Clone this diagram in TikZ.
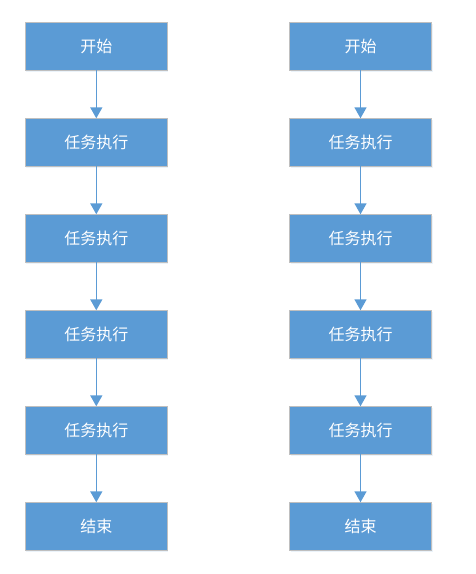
\documentclass[tikz,border=0pt]{standalone}
\usepackage{fontspec}
\newfontfamily\cjk{Noto Sans CJK SC}
\usetikzlibrary{positioning, arrows.meta, shadows}
\definecolor{boxblue}{HTML}{5B9BD5}
\tikzset{blk/.style={draw=gray!50, fill=boxblue, text=white, minimum width=142pt, minimum height=48pt, inner sep=0pt, outer sep=0pt, font=\cjk\fontsize{16pt}{16pt}\selectfont, drop shadow={shadow xshift=1pt, shadow yshift=-2pt, opacity=0.12, fill=boxblue}}}
\tikzset{flow/.style={line width=1.5pt, boxblue, -{Triangle[width=12pt,length=11pt]}}}

\begin{document}
\begin{tikzpicture}[x=1pt, y=-1pt, node distance=48pt]
  \useasboundingbox (0,0) rectangle (476,574);
  % Two identical columns
  \foreach \c/\x in {l/96.3, r/360.5} {
    \node[blk] (\c0) at (\x,46.3) {开始};
    \foreach \i [count=\j from 0] in {1,...,4} {
      \node[blk, below=of \c\j] (\c\i) {任务执行};
    }
    \node[blk, below=of \c4] (\c5) {结束};
    % Arrows
    \foreach \i [count=\j from 0] in {1,...,5} {
      \draw[flow] (\c\j) -- (\c\i);
    }
  }
\end{tikzpicture}
\end{document}
